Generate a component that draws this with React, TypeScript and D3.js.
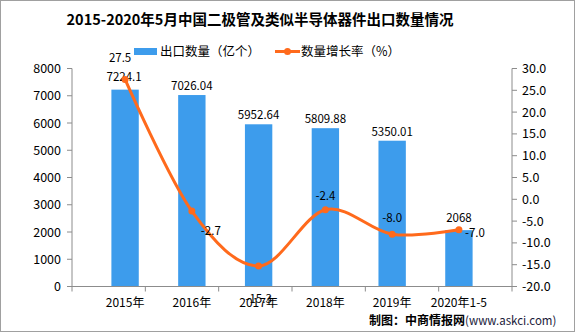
import React from "react";
import * as d3 from "d3";

const categories = ["2015年", "2016年", "2017年", "2018年", "2019年", "2020年1-5"];
const exportQty = [7224.1, 7026.04, 5952.64, 5809.88, 5350.01, 2068];
const growthRate = [27.5, -2.7, -15.3, -2.4, -8.0, -7.0];
const qtyLabels = ["7224.1", "7026.04", "5952.64", "5809.88", "5350.01", "2068"];
const rateLabels = ["27.5", "-2.7", "-15.3", "-2.4", "-8.0", "-7.0"];
const leftTicks = [0, 1000, 2000, 3000, 4000, 5000, 6000, 7000, 8000];
const rightTicks = [-20, -15, -10, -5, 0, 5, 10, 15, 20, 25, 30];

// label placement offsets (dx, dy) relative to the point
const rateLabelOffsets: [number, number][] = [
  [-5, -17],
  [19, 24],
  [0, 37],
  [0, -10],
  [0, -12],
  [16, 7],
];
const qtyLabelOffsets: [number, number][] = [
  [-1, -8.5],
  [0, -5],
  [0, -5],
  [0, -5],
  [0, -5],
  [0, -8],
];

const W = 576;
const H = 333;
const left = 72;
const right = 512;
const top = 68.5;
const bottom = 286.5;

const font = "'Noto Sans CJK SC', 'DejaVu Sans', sans-serif";
const axisColor = "#8c8c8c";
const barColor = "#3d9cec";
const lineColor = "#ff6a1c";

export default function App() {
  const x = d3.scaleBand<string>().domain(categories).range([left, right]).padding(0.59);
  const yL = d3.scaleLinear().domain([0, 8000]).range([bottom, top]);
  const yR = d3.scaleLinear().domain([-20, 30]).range([bottom, top]);
  const cx = (i: number) => (x(categories[i]) as number) + x.bandwidth() / 2;

  const line = d3
    .line<number>()
    .x((_, i) => cx(i))
    .y((d) => yR(d))
    .curve(d3.curveCardinal.tension(0));

  const step = (right - left) / categories.length;
  const boundaries = d3.range(categories.length + 1).map((i) => left + i * step);

  return (
    <svg
      width={W}
      height={H}
      style={{ position: "absolute", left: 0, top: 0, background: "#fff" }}
      fontFamily={font}
    >
      <rect x={0.5} y={0.5} width={W - 2} height={H - 2} fill="#fff" stroke="#a0a0a0" />
      <text
        x={260}
        y={25}
        textAnchor="middle"
        fontSize={14.5}
        fontWeight="bold"
        fill="#000"
      >
        2015-2020年5月中国二极管及类似半导体器件出口数量情况
      </text>

      {/* legend */}
      <rect x={134} y={48} width={23} height={7} fill={barColor} />
      <text x={160} y={56} fontSize={12.5} fill="#000">
        出口数量（亿个）
      </text>
      <line x1={275} x2={300} y1={51.5} y2={51.5} stroke={lineColor} strokeWidth={3} />
      <circle cx={287.5} cy={51.5} r={3.5} fill={lineColor} />
      <text x={301} y={56} fontSize={12.5} fill="#000">
        数量增长率（%）
      </text>

      {/* bars */}
      {exportQty.map((v, i) => (
        <rect
          key={"b" + i}
          x={x(categories[i])}
          y={yL(v)}
          width={x.bandwidth()}
          height={bottom - yL(v)}
          fill={barColor}
        />
      ))}

      {/* left axis */}
      <line x1={left} x2={left} y1={top} y2={bottom} stroke={axisColor} />
      {leftTicks.map((t) => (
        <g key={"l" + t}>
          <line x1={left - 5} x2={left} y1={yL(t)} y2={yL(t)} stroke={axisColor} />
          <text x={61} y={yL(t) + 4.5} textAnchor="end" fontSize={12.5} fill="#000">
            {t}
          </text>
        </g>
      ))}

      {/* right axis */}
      <line x1={right} x2={right} y1={top} y2={bottom} stroke={axisColor} />
      {rightTicks.map((t) => (
        <g key={"r" + t}>
          <line x1={right} x2={right + 5} y1={yR(t)} y2={yR(t)} stroke={axisColor} />
          <text x={522} y={yR(t) + 4.5} textAnchor="start" fontSize={12.5} fill="#000">
            {t.toFixed(1)}
          </text>
        </g>
      ))}

      {/* bottom axis */}
      <line x1={left} x2={right} y1={bottom} y2={bottom} stroke={axisColor} />
      {boundaries.map((b, i) => (
        <line key={"t" + i} x1={b} x2={b} y1={bottom} y2={bottom + 5} stroke={axisColor} />
      ))}
      {categories.map((c, i) => (
        <text key={"c" + i} x={cx(i)} y={307} textAnchor="middle" fontSize={12} fill="#000">
          {c}
        </text>
      ))}

      {/* bar labels */}
      {exportQty.map((v, i) => (
        <text
          key={"ql" + i}
          x={cx(i) + qtyLabelOffsets[i][0]}
          y={yL(v) + qtyLabelOffsets[i][1]}
          textAnchor="middle"
          fontSize={11.5}
          fill="#000"
        >
          {qtyLabels[i]}
        </text>
      ))}

      {/* line */}
      <path d={line(growthRate) || ""} fill="none" stroke={lineColor} strokeWidth={3} />
      {growthRate.map((v, i) => (
        <circle key={"p" + i} cx={cx(i)} cy={yR(v)} r={3.5} fill={lineColor} />
      ))}
      {growthRate.map((v, i) => (
        <text
          key={"rl" + i}
          x={cx(i) + rateLabelOffsets[i][0]}
          y={yR(v) + rateLabelOffsets[i][1]}
          textAnchor="middle"
          fontSize={11.5}
          fill="#000"
        >
          {rateLabels[i]}
        </text>
      ))}

      <text x={369} y={324.5} fontSize={12} fill="#000">
        <tspan fontWeight="bold">制图：中商情报网</tspan>
        <tspan fontSize={11.5} fill="#1a1a3a">(www.askci.com)</tspan>
      </text>
    </svg>
  );
}
